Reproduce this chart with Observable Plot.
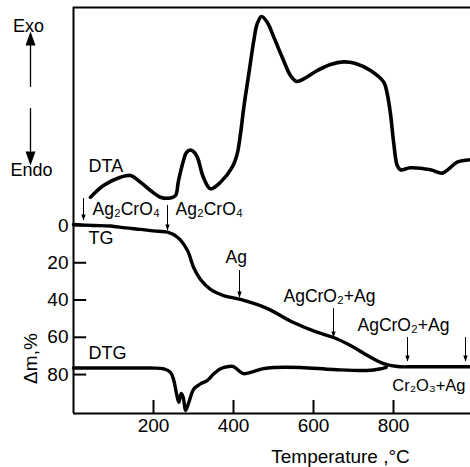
<!DOCTYPE html>
<html><head><meta charset="utf-8">
<script src="https://cdn.jsdelivr.net/npm/d3@7"></script>
<script src="https://cdn.jsdelivr.net/npm/@observablehq/plot@0.6"></script>
<style>html,body{margin:0;padding:0;background:#fff}</style>
</head><body><div id="chart"></div>
<script>
// ---- data ----
const xTicks = [200, 400, 600, 800];
const yTicks = [0, 20, 40, 60, 80];

// TG: mass loss, %
const tgT    = [0, 50, 92.5, 130, 167.5, 200, 235, 260, 285, 300, 317.5, 342.5, 375, 417.5, 485, 550, 610, 650, 692.5, 735, 775, 810, 850, 900, 992.5];
const tgMass = [-0.5, 0, 0.3, 1.3, 2.1, 2.9, 3.6, 6.3, 13.4, 22.4, 29, 34.3, 37.6, 39.7, 44.6, 52.1, 57.4, 60.1, 64.4, 69.8, 74.1, 75.7, 75.8, 75.8, 75.8];

// DTA: signal, arbitrary units (exo up)
const dtaT      = [42.5, 75, 117.5, 142.5, 167.5, 192.5, 217.5, 242.5, 255, 262.5, 275, 282.5, 292.5, 302.5, 310, 325, 342.5, 367.5, 396.8, 409.3, 417.5, 425.8, 438.3, 450.8, 459.3, 470, 484.3, 500.8, 521.8, 542.5, 557.5, 567.5, 610, 642.5, 675, 705, 742.5, 775.8, 784.3, 792.5, 800.8, 809.3, 817.5, 842.5, 892.5, 921.8, 938.3, 959.3, 992.5];
const dtaSignal = [1.8, 8.1, 12.5, 13.4, 9.8, 5.4, 1.8, 1.4, 2.7, 10.7, 21.5, 25.8, 27.1, 25.8, 23.1, 12.3, 6.3, 9.8, 17.9, 25.1, 35.8, 50.1, 68.0, 85.9, 94.9, 98.8, 95.7, 87.7, 76.9, 67.1, 63.9, 64.4, 69.8, 73.0, 74.4, 73.6, 69.8, 63.5, 57.3, 46.5, 30.4, 18.8, 16.5, 17.6, 16.5, 14.7, 17.0, 20.6, 21.9];

// DTG: signal, arbitrary units (downward peaks positive)
const dtgT      = [0, 100, 192.5, 225.8, 242.5, 250.8, 257.5, 263.3, 269.3, 274.3, 280, 288.3, 300.8, 317.5, 334.3, 350.8, 367.5, 387.5, 400, 412.5, 425, 450, 475, 500, 567.5, 650, 735, 770, 782];
const dtgSignal = [0, 0, 0, 0.4, 2.3, 6.7, 13.7, 18.4, 13.7, 15.7, 22.8, 18.4, 11.2, 8.5, 6.7, 3.1, 0.4, -0.8, -0.8, 1.3, 3.0, 1.9, 0.3, -0.3, -0.3, 0.8, 1.3, 0.3, -0.3];

// phase annotations
const phaseLabels = ["Ag\u2082CrO\u2084", "Ag\u2082CrO\u2084", "Ag", "AgCrO\u2082+Ag", "AgCrO\u2082+Ag", "Cr\u2082O\u2083+Ag"];
const phaseLabelT = [47.5, 255, 380, 525, 710, 797];
const phaseLabelM = [-5.4, -5.4, 19.9, 41.3, 56.4, 88.6];
const phaseLabelSize = [17.5, 17.5, 17.5, 17.5, 17.5, 16.5];
const arrowT    = [25, 235, 415, 650, 835, 980];
const arrowFrom = [-14.5, -10.7, 24.2, 44.6, 60.1, 60.1];
const arrowTo   = [-2.7, 2.7, 38.7, 60.1, 73.0, 73.0];

const curveNames = ["DTA", "TG", "DTG"];
const curveNameT = [37.5, 37.5, 37.5];
const curveNameM = [-28.5, 9.7, 71.9];

// ---- build tables ----
const yBottom = 100.9, yTop = -117;
const dtaOffset = -13.4, dtgOffset = 76.5;
const tg  = tgT.map((t, i) => ({t, m: tgMass[i]}));
const dta = dtaT.map((t, i) => ({t, m: dtaOffset - dtaSignal[i]}));
const dtg = dtgT.map((t, i) => ({t, m: dtgOffset + dtgSignal[i]}));
const phases = phaseLabels.map((label, i) => ({label, t: phaseLabelT[i], m: phaseLabelM[i], size: phaseLabelSize[i]}));
const arrows = arrowT.map((t, i) => ({t, y1: arrowFrom[i], y2: arrowTo[i]}));
const names = curveNames.map((label, i) => ({label, t: curveNameT[i], m: curveNameM[i]}));
const xTickMarks = xTicks.map(v => ({x: v, y1: yBottom, y2: yBottom - 7}));
const yTickMarks = yTicks.map(v => ({y: v, x1: 0, x2: 33}));

const narrowTri = {draw(ctx, size) { const s = Math.sqrt(size / Math.PI); ctx.moveTo(0, -1.4 * s); ctx.lineTo(s, 1.4 * s); ctx.lineTo(-s, 1.4 * s); ctx.closePath(); }};

const exoArrows = [{t: -107.5, y1: -74.1, y2: -100.4, dir: 0}, {t: -107.5, y1: -62.8, y2: -36, dir: 180}];

const font = "'Liberation Sans', Arial, sans-serif";
const chart = Plot.plot({
  width: 470, height: 467,
  marginLeft: 73, marginRight: 0, marginTop: 7, marginBottom: 54,
  style: {fontFamily: font, fontSize: "19px", color: "#000", background: "#fff", overflow: "visible"},
  x: {domain: [0, 992.5], label: null},
  y: {domain: [yBottom, yTop], label: null},
  marks: [
    Plot.axisX({ticks: xTicks, tickSize: 0, tickPadding: 5, label: null}),
    Plot.axisY({ticks: yTicks, tickSize: 0, tickPadding: 5, label: null}),
    Plot.ruleX([0], {stroke: "#000", strokeWidth: 2}),
    Plot.ruleY([yBottom, yTop], {stroke: "#000", strokeWidth: 2}),
    // inward tick marks
    Plot.ruleX(xTickMarks, {x: "x", y1: "y1", y2: "y2", stroke: "#000", strokeWidth: 2}),
    Plot.ruleY(yTickMarks, {y: "y", x1: "x1", x2: "x2", stroke: "#000", strokeWidth: 2}),
    Plot.line(dta, {x: "t", y: "m", curve: "catmull-rom", stroke: "#000", strokeWidth: 3.6}),
    Plot.line(tg, {x: "t", y: "m", curve: "catmull-rom", stroke: "#000", strokeWidth: 3.4}),
    Plot.line(dtg, {x: "t", y: "m", curve: "catmull-rom", stroke: "#000", strokeWidth: 3.4}),
    Plot.ruleX(arrows, {x: "t", y1: "y1", y2: "y2", stroke: "#000", strokeWidth: 1}),
    Plot.dot(arrows, {x: "t", y: "y2", symbol: narrowTri, r: 2.2, rotate: 180, dy: -3, fill: "#000", stroke: "none"}),
    Plot.text(phases, {x: "t", y: "m", text: "label", textAnchor: "start", lineAnchor: "bottom", fontSize: "size", fill: "#000"}),
    Plot.text(names, {x: "t", y: "m", text: "label", textAnchor: "start", lineAnchor: "bottom", fontSize: 18, fill: "#000"}),
    Plot.ruleX(exoArrows, {x: "t", y1: "y1", y2: "y2", stroke: "#000", strokeWidth: 1.3}),
    Plot.dot(exoArrows, {x: "t", y: "y2", symbol: narrowTri, r: 5, rotate: "dir", dy: 0, fill: "#000", stroke: "none"}),
    Plot.text(["Exo"], {x: -112.5, y: -103.6, textAnchor: "middle", lineAnchor: "bottom", fontSize: 18, fill: "#000"}),
    Plot.text(["Endo"], {x: -105, y: -26.8, textAnchor: "middle", lineAnchor: "bottom", fontSize: 18, fill: "#000"}),
    Plot.text(["Temperature ,\u00B0C"], {x: 667.5, y: yBottom, dy: 49, textAnchor: "middle", lineAnchor: "bottom", fontSize: 19, fill: "#000"}),
    Plot.text(["\u0394m,%"], {x: -92.5, y: 71.4, rotate: -90, textAnchor: "middle", lineAnchor: "bottom", fontSize: 19, fill: "#000"})
  ]
});
document.getElementById("chart").appendChild(chart);
</script>
</body></html>
